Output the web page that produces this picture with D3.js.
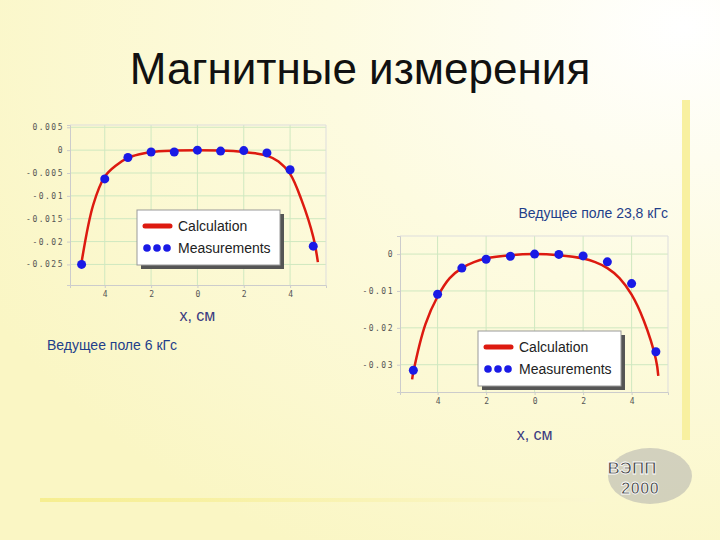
<!DOCTYPE html><html><head><meta charset="utf-8">
<script src="https://cdn.jsdelivr.net/npm/d3@7"></script>
<style>body{margin:0}</style></head><body><svg id="s" width="720" height="540"></svg>
<script>
const xTicks=[-4,-2,0,2,4];
const xTickLabels=["4","2","0","2","4"];
const measX=[-5,-4,-3,-2,-1,0,1,2,3,4,5];
const measL=[-0.025,-0.0063,-0.0016,-0.0004,-0.0004,0,-0.0002,-0.0001,-0.0006,-0.0043,-0.0210];
const calcXL=[-5,-4.5,-4,-3.5,-3,-2.5,-2,-1,0,1,2,2.5,3,3.5,4,4.5,5,5.2];
const calcL=[-0.0245,-0.012,-0.0058,-0.0033,-0.0017,-0.0009,-0.0004,-0.0001,0,-0.0001,-0.0004,-0.0007,-0.0012,-0.0025,-0.0052,-0.011,-0.019,-0.0245];
const yTicksL=[0.005,0,-0.005,-0.01,-0.015,-0.02,-0.025];
const yLabelsL=["0.005","0","-0.005","-0.01","-0.015","-0.02","-0.025"];
const measR=[-0.0315,-0.0109,-0.0038,-0.0014,-0.0006,0,-0.0001,-0.0005,-0.0021,-0.0080,-0.0265];
const calcXR=[-5.05,-5,-4.5,-4,-3.5,-3,-2.5,-2,-1,0,1,2,2.5,3,3.5,4,4.5,5,5.1];
const calcR=[-0.034,-0.032,-0.019,-0.0115,-0.0065,-0.0038,-0.0022,-0.0012,-0.0003,0,-0.0003,-0.0012,-0.0022,-0.0038,-0.0065,-0.011,-0.018,-0.0285,-0.033];
const yTicksR=[0,-0.01,-0.02,-0.03];
const yLabelsR=["0","-0.01","-0.02","-0.03"];

const svg=d3.select("#s");
const defs=svg.append("defs");
const g=defs.append("radialGradient").attr("id","bg").attr("cx","0.95").attr("cy","0.05").attr("r","1.1");
g.append("stop").attr("offset","0").attr("stop-color","#ffffff");
g.append("stop").attr("offset","0.45").attr("stop-color","#fdfbe0");
g.append("stop").attr("offset","1").attr("stop-color","#faf6c4");
svg.append("rect").attr("width",720).attr("height",540).attr("fill","url(#bg)");
const lg=defs.append("linearGradient").attr("id","hl");
lg.append("stop").attr("offset","0").attr("stop-color","#f6ee90");
lg.append("stop").attr("offset","1").attr("stop-color","#fbf7d0");
svg.append("rect").attr("x",40).attr("y",498).attr("width",555).attr("height",4).attr("fill","url(#hl)");
svg.append("rect").attr("x",682).attr("y",100).attr("width",8).attr("height",340).attr("fill","#f8f0a0");
svg.append("text").attr("x",360).attr("y",84).attr("text-anchor","middle").attr("font-family","Liberation Sans, Arial").attr("font-size",44).attr("fill","#111").text("Магнитные измерения");

function chart(o){
  const x=d3.scaleLinear().domain(o.xd).range([o.l,o.r]);
  const y=d3.scaleLinear().domain(o.yd).range([o.b,o.t]);
  const c=svg.append("g");
  c.selectAll(".gx").data(xTicks).join("line").attr("x1",d=>x(d)).attr("x2",d=>x(d)).attr("y1",o.t).attr("y2",o.b).attr("stroke","#cfe8c0");
  c.selectAll(".gy").data(o.yt).join("line").attr("x1",o.l).attr("x2",o.r).attr("y1",d=>y(d)).attr("y2",d=>y(d)).attr("stroke","#cfe8c0");
  c.append("line").attr("x1",o.r).attr("x2",o.r).attr("y1",o.t).attr("y2",o.b).attr("stroke","#ddd");
  c.append("line").attr("x1",o.l).attr("x2",o.r).attr("y1",o.t).attr("y2",o.t).attr("stroke","#ddd");
  c.append("g").attr("transform",`translate(0,${o.b})`).call(d3.axisBottom(x).tickValues(xTicks).tickFormat((d,i)=>xTickLabels[i]).tickSize(3))
   .call(a=>{a.select(".domain").attr("stroke","#ccc");a.selectAll("line").attr("stroke","#ccc");a.selectAll("text").attr("fill","#555").attr("font-size",8).attr("font-family","DejaVu Sans Mono")});
  c.append("g").attr("transform",`translate(${o.l},0)`).call(d3.axisLeft(y).tickValues(o.yt).tickFormat((d,i)=>o.yl[i]).tickSize(3))
   .call(a=>{a.select(".domain").attr("stroke","#ccc");a.selectAll("line").attr("stroke","#ccc");a.selectAll("text").attr("fill","#555").attr("font-size",8).attr("font-family","DejaVu Sans Mono").attr("letter-spacing",1.5)});
  c.append("path").datum(o.cx.map((v,i)=>[v,o.cy[i]])).attr("d",d3.line().x(d=>x(d[0])).y(d=>y(d[1])).curve(d3.curveCatmullRom)).attr("fill","none").attr("stroke","#dd1a10").attr("stroke-width",2.5);
  c.selectAll(".m").data(measX).join("circle").attr("cx",d=>x(d)).attr("cy",(d,i)=>y(o.my[i])).attr("r",4.5).attr("fill","#1a1ae6");
  const L=o.leg;
  c.append("rect").attr("x",L[0]+4).attr("y",L[1]+4).attr("width",143).attr("height",55).attr("fill","#555");
  c.append("rect").attr("x",L[0]).attr("y",L[1]).attr("width",143).attr("height",55).attr("fill","#fff").attr("stroke","#999");
  c.append("line").attr("x1",L[0]+8).attr("x2",L[0]+33).attr("y1",L[1]+16).attr("y2",L[1]+16).attr("stroke","#dd1a10").attr("stroke-width",5).attr("stroke-linecap","round");
  [0,1,2].forEach(k=>c.append("circle").attr("cx",L[0]+10+k*10).attr("cy",L[1]+38).attr("r",3.8).attr("fill","#1a1ae6"));
  c.append("text").attr("x",L[0]+41).attr("y",L[1]+21).text("Calculation").attr("font-family","Liberation Sans").attr("font-size",14).attr("fill","#222");
  c.append("text").attr("x",L[0]+41).attr("y",L[1]+43).text("Measurements").attr("font-family","Liberation Sans").attr("font-size",14).attr("fill","#222");
  c.append("text").attr("x",x(0)).attr("y",o.xl).attr("text-anchor","middle").attr("font-family","Liberation Sans").attr("font-size",16).attr("fill","#3a3a80").text("x, см");
}
chart({xd:[-5.5,5.55],yd:[-0.0295,0.0055],l:70,r:326,t:125,b:285,yt:yTicksL,yl:yLabelsL,cx:calcXL,cy:calcL,my:measL,leg:[137,210],xl:321});
chart({xd:[-5.55,5.5],yd:[-0.0374,0.0049],l:400,r:668,t:236,b:392,yt:yTicksR,yl:yLabelsR,cx:calcXR,cy:calcR,my:measR,leg:[478,331],xl:440});
svg.append("text").attr("x",47).attr("y",350).attr("font-family","Liberation Sans").attr("font-size",14).attr("fill","#1f3f8a").text("Ведущее поле 6 кГс");
svg.append("text").attr("x",668).attr("y",218).attr("text-anchor","end").attr("font-family","Liberation Sans").attr("font-size",14).attr("fill","#1f3f8a").text("Ведущее поле 23,8 кГс");
svg.append("ellipse").attr("cx",650).attr("cy",476).attr("rx",42).attr("ry",28).attr("fill","#aaa").attr("opacity",0.5);
svg.append("text").attr("x",632).attr("y",474).attr("text-anchor","middle").attr("font-family","Liberation Sans").attr("font-weight","bold").attr("font-size",17).attr("fill","#444").attr("stroke","#fff").attr("stroke-width",0.8).text("ВЭПП");
svg.append("text").attr("x",640).attr("y",494).attr("text-anchor","middle").attr("font-family","Liberation Sans").attr("font-weight","bold").attr("font-size",17).attr("fill","#444").attr("stroke","#fff").attr("stroke-width",0.8).text("2000");
</script></body></html>
